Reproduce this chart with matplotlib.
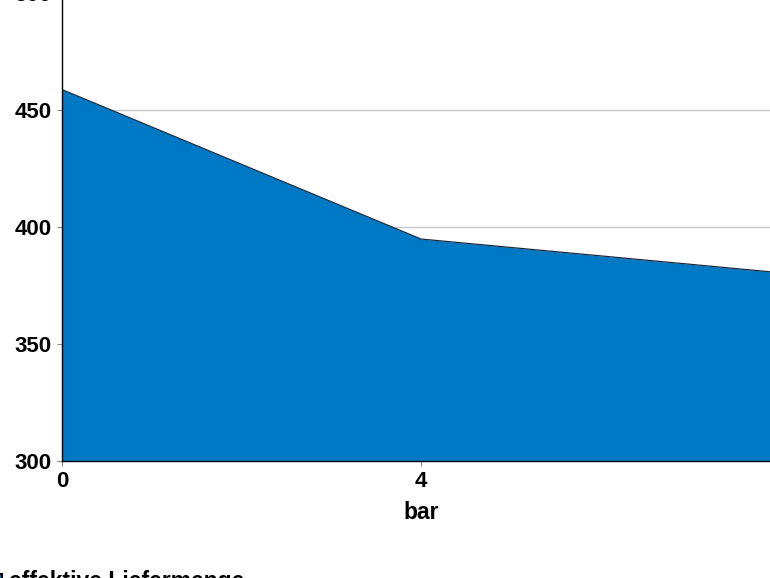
import matplotlib
matplotlib.use('Agg')
import matplotlib.pyplot as plt
from matplotlib.patches import Rectangle

# Pressure vs. effective delivery volume
pressure = [0, 4, 8]          # bar
flow = [458.8, 394.9, 380.5]  # l/min
yticks = [300, 350, 400, 450, 500]
xticks = [0, 4]

fill_color = '#0079C4'
plt.rcParams['font.family'] = ['Liberation Sans', 'DejaVu Sans']
plt.rcParams['font.weight'] = 'bold'

fig = plt.figure(figsize=(7.7, 5.78), dpi=100)
ax = fig.add_axes([62/770, 117/578, 718/770, 467.8/578])

ax.fill_between(pressure, 300, flow, color=fill_color, lw=0, zorder=2)
ax.plot(pressure, flow, color='#1a2a40', lw=0.9, zorder=3)

ax.set_xlim(0, 8)
ax.set_ylim(300, 500)
ax.set_xticks(xticks)
ax.set_yticks(yticks)
ax.grid(axis='y', color='#c8c8c8', lw=1, zorder=0)
ax.set_axisbelow(True)

for s in ['top', 'right']:
    ax.spines[s].set_visible(False)
for s in ['left', 'bottom']:
    ax.spines[s].set_color('black')
    ax.spines[s].set_linewidth(1)
    ax.spines[s].set_zorder(4)

ax.tick_params(axis='both', length=3.5, color='#888888', labelsize=16, pad=4)
for lab in ax.get_xticklabels() + ax.get_yticklabels():
    lab.set_fontweight('bold')

ax.set_xlabel('bar', fontsize=16.5, fontweight='bold', labelpad=6)
fig.text(4/770, 1 - 226/578, 'l/min', rotation=90, ha='right', va='center',
         fontsize=16, fontweight='bold')

# legend (cut off at the bottom left)
fig.patches.append(Rectangle((-14/770, 1 - 590/578), 16/770, 16/578,
                             transform=fig.transFigure, facecolor=fill_color,
                             edgecolor='black', lw=1.5, figure=fig))
fig.text(9/770, 1 - 570/578, 'effektive Liefermenge', ha='left', va='top',
         fontsize=16.5, fontweight='bold')

fig.savefig('out.png', dpi=100)
